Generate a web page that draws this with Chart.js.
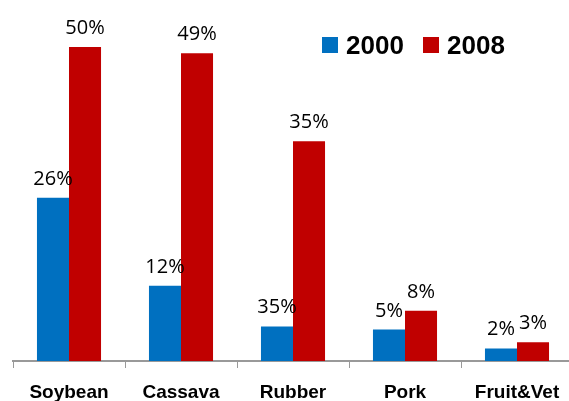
<!DOCTYPE html>
<html>
<head>
<meta charset="utf-8">
<script src="https://cdn.jsdelivr.net/npm/chart.js@4/dist/chart.umd.min.js"></script>
<style>
  html, body { margin: 0; padding: 0; background: #fff; overflow: hidden; }
  #wrap { width: 569px; height: 401px; overflow: hidden; }
</style>
</head>
<body>
<div id="wrap"><canvas id="graph" width="573" height="401"></canvas></div>
<script>
const products = ["Soybean", "Cassava", "Rubber", "Pork", "Fruit&Vet"];
const share2000 = [26, 12, 5.5, 5, 2];
const share2008 = [50, 49, 35, 8, 3];
// text printed above each bar
const labels2000 = ["26%", "12%", "35%", "5%", "2%"];
const labels2008 = ["50%", "49%", "35%", "8%", "3%"];

const BLUE = "#0070C0";
const RED = "#C00000";

// values on top of the bars
const barLabels = {
  id: "barLabels",
  afterDatasetsDraw(chart) {
    const ctx = chart.ctx;
    ctx.save();
    ctx.font = "20px 'Open Sans', sans-serif";
    ctx.fillStyle = "#000";
    ctx.textAlign = "center";
    ctx.textBaseline = "alphabetic";
    chart.data.datasets.forEach((ds, i) => {
      chart.getDatasetMeta(i).data.forEach((bar, j) => {
        ctx.fillText(ds.valueLabels[j], bar.x, bar.y - 13);
      });
    });
    ctx.restore();
  }
};

// legend drawn inside the plot, top right
const boxLegend = {
  id: "boxLegend",
  afterDraw(chart) {
    const ctx = chart.ctx;
    ctx.save();
    ctx.font = "bold 26px 'Liberation Sans', Arial, sans-serif";
    ctx.textBaseline = "alphabetic";
    let x = 322;
    chart.data.datasets.forEach((ds) => {
      ctx.fillStyle = ds.backgroundColor;
      ctx.fillRect(x, 37, 16, 16);
      ctx.fillStyle = "#000";
      ctx.fillText(ds.label, x + 24, 54);
      x += 101;
    });
    ctx.restore();
  }
};

const config = {
  type: "bar",
  data: {
    labels: products,
    datasets: [
      { label: "2000", data: share2000, valueLabels: labels2000, backgroundColor: BLUE },
      { label: "2008", data: share2008, valueLabels: labels2008, backgroundColor: RED }
    ]
  },
  options: {
    responsive: false,
    animation: false,
    layout: { padding: { left: 13, right: 0, top: 0, bottom: 0 } },
    datasets: {
      bar: { categoryPercentage: 0.572, barPercentage: 1.0, borderWidth: 0 }
    },
    plugins: {
      legend: { display: false },
      tooltip: { enabled: false }
    },
    scales: {
      x: {
        grid: {
          offset: true,
          drawOnChartArea: false,
          drawTicks: true,
          tickLength: 7,
          color: "#999"
        },
        border: { display: true, color: "#999", width: 2 },
        ticks: {
          color: "#000",
          padding: 13,
          font: { family: "'Liberation Sans', Arial, sans-serif", size: 19, weight: "bold" }
        },
        afterFit(axis) { axis.height = 40; }
      },
      y: {
        display: false,
        min: 0,
        max: 57.5
      }
    }
  },
  plugins: [barLabels, boxLegend]
};

new Chart(document.getElementById("graph"), config);
</script>
</body>
</html>
